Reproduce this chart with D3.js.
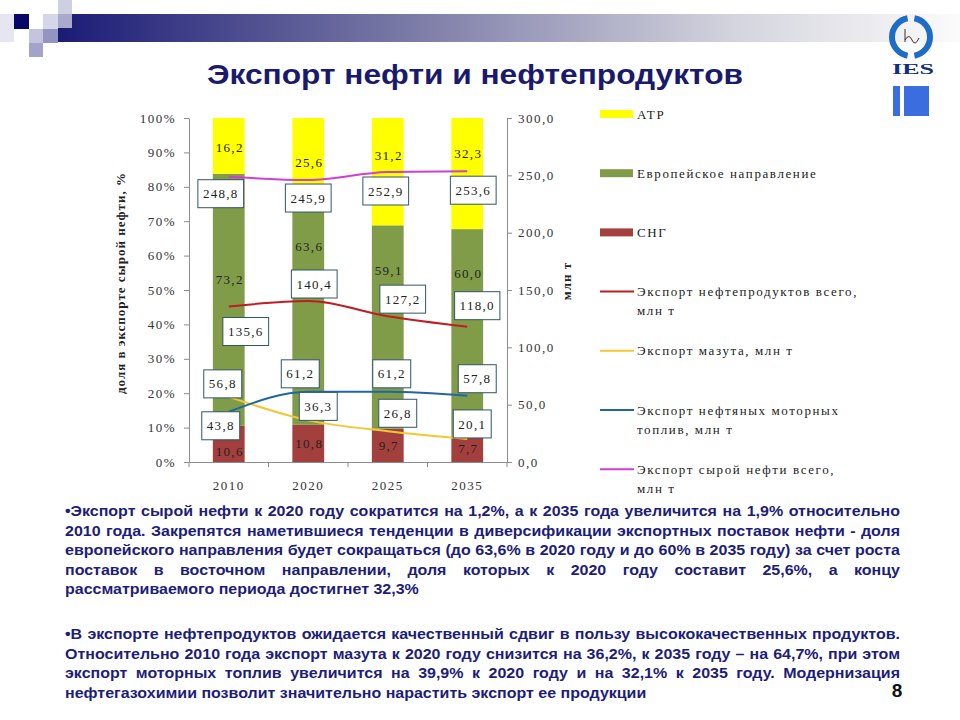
<!DOCTYPE html>
<html>
<head>
<meta charset="utf-8">
<script src="https://cdn.jsdelivr.net/npm/d3@7"></script>
<style>
  body { margin: 0; background: #fff; }
  svg { display: block; }
  .num { font-family: "Liberation Serif", "Times New Roman", serif; font-size: 13px; letter-spacing: 1.3px; fill: #222; }
  .leg text { letter-spacing: 1.6px; }
  .axis text { font-family: "Liberation Serif", "Times New Roman", serif; font-size: 13px; letter-spacing: 1.5px; fill: #333; }
  .axis path, .axis line { stroke: #8c8c8c; }
</style>
</head>
<body>
<svg id="slide" width="960" height="720"></svg>
<script>
// chart data
var years = ["2010", "2020", "2025", "2035"];
var cis = [10.6, 10.8, 9.7, 7.7];          // СНГ
var europe = [73.2, 63.6, 59.1, 60.0];     // Европейское направление
var apr = [16.2, 25.6, 31.2, 32.3];        // АТР
var productsTotal = [135.6, 140.4, 127.2, 118.0];
var fuelOil = [56.8, 36.3, 26.8, 20.1];
var motorFuels = [43.8, 61.2, 61.2, 57.8];
var crudeTotal = [248.8, 245.9, 252.9, 253.6];
var shareTicks = [0, 0.1, 0.2, 0.3, 0.4, 0.5, 0.6, 0.7, 0.8, 0.9, 1];
var volumeTicks = [0, 50, 100, 150, 200, 250, 300];

// label nudges (pixels), the labels were dragged by hand in the original
var crudeShift = [[-8, 17], [0, 18], [-2, 19], [6, 19]];
var productsShift = [[17, 25], [6, -17], [15, -17], [10, -21]];
var motorShift = [[-8, 14], [-8, -18], [4, -18], [10, -17]];
var fuelShift = [[-6, -13], [10, -14], [10, -18], [5, -15]];
var greenShift = [-20, -69, -57, -59];
var yellowShift = [2, 0, -16, -20];
var redShift = [8, 0, 0, 0];

var svg = d3.select("#slide");

// ---- header decoration
var defs = svg.append("defs");
var grad = defs.append("linearGradient").attr("id", "band");
grad.append("stop").attr("offset", "0").attr("stop-color", "#1b1b76");
grad.append("stop").attr("offset", "0.4").attr("stop-color", "#7d7da8");
grad.append("stop").attr("offset", "0.75").attr("stop-color", "#d4d4de");
grad.append("stop").attr("offset", "1").attr("stop-color", "#fbfbfb");
svg.append("rect").attr("x", 58).attr("y", 14).attr("width", 902).attr("height", 28).attr("fill", "url(#band)");

var squares = [
  [0, 14, 14, 28, "#e6e6f2"], [58, 0, 14, 14, "#cfcfe4"], [43, 14, 15, 15, "#d6d6ea"],
  [58, 14, 14, 14, "#a9a9cc"], [29, 29, 14, 14, "#c4c4de"], [43, 29, 15, 14, "#9494c2"],
  [29, 43, 14, 14, "#a3a3c9"], [14, 14, 15, 15, "#07076a"]
];
svg.selectAll("rect.sq").data(squares).enter().append("rect")
  .attr("class", "sq")
  .attr("x", function(d) { return d[0]; }).attr("y", function(d) { return d[1]; })
  .attr("width", function(d) { return d[2]; }).attr("height", function(d) { return d[3]; })
  .attr("fill", function(d) { return d[4]; });

// logo
var logo = svg.append("g").attr("transform", "translate(911,37)");
var ring = d3.arc().innerRadius(16).outerRadius(22);
logo.append("path").attr("d", ring({startAngle: 0.18, endAngle: Math.PI - 0.18})).attr("fill", "#1d6cc8");
logo.append("path").attr("d", ring({startAngle: Math.PI + 0.18, endAngle: 2 * Math.PI - 0.18})).attr("fill", "#1d6cc8");
logo.append("path").attr("d", "M-6,-8 L-6,5 M-6,3 Q-2,-4 1,3 T8,1").attr("fill", "none").attr("stroke", "#333").attr("stroke-width", 1);
svg.append("text").attr("x", 913).attr("y", 74).attr("text-anchor", "middle")
  .attr("font-family", "Liberation Serif, serif").attr("font-weight", "bold").attr("font-size", 15)
  .attr("textLength", 42).attr("lengthAdjust", "spacingAndGlyphs").attr("fill", "#15307a").text("IES");
svg.append("rect").attr("x", 893).attr("y", 86).attr("width", 7).attr("height", 30).attr("fill", "#3a6ee0");
svg.append("rect").attr("x", 904).attr("y", 86).attr("width", 25).attr("height", 30).attr("fill", "#3a6ee0");

// title
svg.append("text").attr("x", 475).attr("y", 84).attr("text-anchor", "middle")
  .attr("font-family", "Liberation Sans, Arial, sans-serif").attr("font-weight", "bold").attr("font-size", 28)
  .attr("textLength", 536).attr("lengthAdjust", "spacingAndGlyphs")
  .attr("fill", "#1a1a6c").text("Экспорт нефти и нефтепродуктов");

// ---- chart
var x = d3.scaleBand().domain(years).range([189, 507]).paddingInner(0.6).paddingOuter(0.3);
var yL = d3.scaleLinear().domain([0, 1]).range([462, 118]);
var yR = d3.scaleLinear().domain([0, 300]).range([462, 118]);

var parts = [
  {key: "cis", vals: cis, color: "#a3403d", shift: redShift},
  {key: "europe", vals: europe, color: "#819c48", shift: greenShift},
  {key: "apr", vals: apr, color: "#ffff00", shift: yellowShift}
];
var rows = years.map(function(y, i) {
  return {year: y, cis: cis[i] / 100, europe: europe[i] / 100, apr: apr[i] / 100};
});
var stacked = d3.stack().keys(["cis", "europe", "apr"])(rows);

var gBars = svg.append("g");
stacked.forEach(function(layer, li) {
  gBars.append("g").attr("fill", parts[li].color)
    .selectAll("rect").data(layer).enter().append("rect")
      .attr("x", function(d) { return x(d.data.year); })
      .attr("y", function(d) { return yL(d[1]); })
      .attr("width", x.bandwidth())
      .attr("height", function(d) { return yL(d[0]) - yL(d[1]); });
});

// axes
svg.append("g").attr("class", "axis").attr("transform", "translate(189,0)")
  .call(d3.axisLeft(yL).tickValues(shareTicks).tickSize(5).tickSizeOuter(0).tickPadding(8).tickFormat(d3.format(".0%")));
svg.append("g").attr("class", "axis").attr("transform", "translate(507,0)")
  .call(d3.axisRight(yR).tickValues(volumeTicks).tickSize(5).tickSizeOuter(0).tickPadding(6)
    .tickFormat(function(d) { return d.toFixed(1).replace(".", ","); }));
var xAxis = svg.append("g").attr("class", "axis").attr("transform", "translate(0,462)")
  .call(d3.axisBottom(x).tickSize(0).tickPadding(19));
var edges = d3.range(years.length + 1).map(function(i) { return x.range()[0] + i * x.step(); });
xAxis.selectAll("line.edge").data(edges).enter().append("line")
  .attr("class", "edge").attr("x1", function(d) { return d; }).attr("x2", function(d) { return d; })
  .attr("y1", 0).attr("y2", 5);

// axis titles
svg.append("text").attr("transform", "translate(125,283) rotate(-90)").attr("text-anchor", "middle")
  .attr("font-family", "Liberation Serif, serif").attr("font-weight", "bold").attr("font-size", 13)
  .attr("letter-spacing", 1).attr("fill", "#222").text("доля в экспорте сырой нефти, %");
svg.append("text").attr("transform", "translate(571,281) rotate(-90)").attr("text-anchor", "middle")
  .attr("font-family", "Liberation Serif, serif").attr("font-weight", "bold").attr("font-size", 13)
  .attr("letter-spacing", 1).attr("fill", "#222").text("млн т");

// bar labels
stacked.forEach(function(layer, li) {
  svg.append("g").selectAll("text").data(layer).enter().append("text")
    .attr("class", "num").attr("text-anchor", "middle")
    .attr("x", function(d) { return x(d.data.year) + x.bandwidth() / 2 + 1; })
    .attr("y", function(d, i) { return (yL(d[0]) + yL(d[1])) / 2 + parts[li].shift[i]; })
    .attr("dy", "0.35em")
    .text(function(d) { return d3.format(".1f")((d[1] - d[0]) * 100).replace(".", ","); });
});

// lines
var series = [
  {vals: productsTotal, color: "#be1e22", shift: productsShift},
  {vals: fuelOil, color: "#f2c832", shift: fuelShift},
  {vals: motorFuels, color: "#1f66a8", shift: motorShift},
  {vals: crudeTotal, color: "#d13fd1", shift: crudeShift}
];
var line = d3.line()
  .x(function(d, i) { return x(years[i]) + x.bandwidth() / 2; })
  .y(function(d) { return yR(d); })
  .curve(d3.curveMonotoneX);
series.forEach(function(s) {
  svg.append("path").datum(s.vals).attr("fill", "none").attr("stroke", s.color)
    .attr("stroke-width", 2).attr("d", line);
});

// value boxes
series.forEach(function(s) {
  s.vals.forEach(function(v, i) {
    var cx = x(years[i]) + x.bandwidth() / 2 + s.shift[i][0];
    var cy = yR(v) + s.shift[i][1];
    var g = svg.append("g").attr("transform", "translate(" + cx + "," + cy + ")");
    var box = g.append("rect").attr("fill", "#fff").attr("stroke", "#2f5665").attr("stroke-width", 1);
    var t = g.append("text").attr("class", "num").attr("text-anchor", "middle").attr("dy", "0.35em")
      .text(v.toFixed(1).replace(".", ","));
    var w = t.node().getComputedTextLength() + 10;
    box.attr("x", -w / 2).attr("y", -14).attr("width", w).attr("height", 28);
  });
});

// legend
var legend = [
  {label: ["АТР"], color: "#ffff00", bar: true},
  {label: ["Европейское направление"], color: "#819c48", bar: true},
  {label: ["СНГ"], color: "#a3403d", bar: true},
  {label: ["Экспорт нефтепродуктов всего,", "млн т"], color: "#be1e22"},
  {label: ["Экспорт мазута, млн т"], color: "#f2c832"},
  {label: ["Экспорт нефтяных моторных", "топлив, млн т"], color: "#1f66a8"},
  {label: ["Экспорт сырой нефти всего,", "млн т"], color: "#d13fd1"}
];
var leg = svg.selectAll("g.leg").data(legend).enter().append("g")
  .attr("class", "leg")
  .attr("transform", function(d, i) { return "translate(600," + (114 + i * 59.2) + ")"; });
leg.each(function(d) {
  var g = d3.select(this);
  if (d.bar) g.append("rect").attr("x", 0).attr("y", -4).attr("width", 33).attr("height", 8).attr("fill", d.color);
  else g.append("line").attr("x1", 0).attr("x2", 34).attr("y1", 0).attr("y2", 0).attr("stroke", d.color).attr("stroke-width", 2);
  d.label.forEach(function(l, k) {
    g.append("text").attr("class", "num").attr("x", 37).attr("y", k * 19).attr("dy", "0.35em").text(l);
  });
});

// ---- notes
var para1 = [
  "•Экспорт сырой нефти к 2020 году сократится на 1,2%, а к 2035 года увеличится на 1,9% относительно",
  "2010 года. Закрепятся наметившиеся тенденции в диверсификации экспортных поставок нефти - доля",
  "европейского направления будет сокращаться (до 63,6% в 2020 году и до 60% в 2035 году) за счет роста",
  "поставок в восточном направлении, доля которых к 2020 году составит 25,6%, а концу",
  "рассматриваемого периода достигнет 32,3%"
];
var para2 = [
  "•В экспорте нефтепродуктов ожидается качественный сдвиг в пользу высококачественных продуктов.",
  "Относительно 2010 года экспорт мазута к 2020 году снизится на 36,2%, к 2035 году – на 64,7%, при этом",
  "экспорт моторных топлив увеличится на 39,9% к 2020 году и на 32,1% к 2035 году. Модернизация",
  "нефтегазохимии позволит значительно нарастить экспорт ее продукции"
];
function drawPara(lines, top, sx) {
  lines.forEach(function(l, i) {
    var t = svg.append("text")
      .attr("transform", "translate(65," + (top + i * 19.5) + ") scale(" + sx + ",1)")
      .attr("font-family", "Liberation Sans, Arial, sans-serif").attr("font-weight", "bold")
      .attr("font-size", 15).attr("fill", "#1d1d7a").text(l);
    if (i < lines.length - 1) {
      var w = t.node().getComputedTextLength();
      var gaps = l.split(" ").length - 1;
      t.attr("word-spacing", ((835 / sx) - w) / gaps);
    }
  });
}
// horizontal squeeze taken from the last line of the first note (ends near x=419)
var probe = svg.append("text").attr("font-family", "Liberation Sans, Arial, sans-serif")
  .attr("font-weight", "bold").attr("font-size", 15).text(para1[para1.length - 1]);
var sx = 354 / probe.node().getComputedTextLength();
probe.remove();
drawPara(para1, 516, sx);
drawPara(para2, 639, sx);

svg.append("text").attr("x", 897).attr("y", 697).attr("text-anchor", "middle")
  .attr("font-family", "Liberation Sans, Arial, sans-serif").attr("font-weight", "bold")
  .attr("font-size", 19).attr("fill", "#111").text("8");
</script>
</body>
</html>
